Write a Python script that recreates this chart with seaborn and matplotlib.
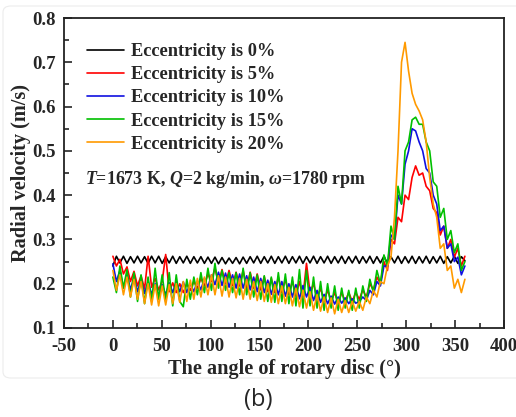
import numpy as np
import pandas as pd
import matplotlib
matplotlib.use("Agg")
import matplotlib.pyplot as plt
from matplotlib.patches import FancyBboxPatch
from matplotlib.ticker import MultipleLocator
import seaborn as sns

labels = ["Eccentricity is 0%", "Eccentricity is 5%", "Eccentricity is 10%",
          "Eccentricity is 15%", "Eccentricity is 20%"]
colors = ["#000000", "#ff0000", "#1010e0", "#00c000", "#ff9a00"]

angle_start, angle_end, n_points = 0, 360, 101

ecc0 = [0.240,0.262,0.247,0.262,0.246,0.261,0.247,0.262,0.247,0.261,
        0.246,0.262,0.247,0.262,0.246,0.261,0.247,0.262,0.246,0.261,
        0.247,0.262,0.246,0.261,0.247,0.261,0.246,0.260,0.246,0.260,
        0.245,0.259,0.245,0.258,0.246,0.259,0.245,0.260,0.246,0.261,
        0.247,0.262,0.246,0.261,0.247,0.262,0.246,0.261,0.247,0.262,
        0.246,0.261,0.247,0.262,0.246,0.261,0.247,0.262,0.246,0.261,
        0.247,0.262,0.246,0.261,0.247,0.262,0.246,0.261,0.247,0.262,
        0.246,0.261,0.247,0.262,0.246,0.261,0.247,0.262,0.246,0.261,
        0.247,0.262,0.246,0.261,0.247,0.262,0.246,0.261,0.247,0.262,
        0.246,0.261,0.247,0.262,0.246,0.261,0.247,0.262,0.246,0.261,
        0.252]
ecc5 = [0.262,0.240,0.255,0.222,0.238,0.205,0.228,0.195,0.218,0.188,
        0.262,0.192,0.212,0.186,0.205,0.266,0.182,0.202,0.180,0.200,
        0.180,0.200,0.185,0.205,0.190,0.212,0.195,0.222,0.205,0.236,
        0.200,0.232,0.200,0.230,0.196,0.226,0.195,0.230,0.190,0.226,
        0.190,0.222,0.186,0.216,0.182,0.212,0.180,0.215,0.180,0.210,
        0.176,0.206,0.172,0.205,0.170,0.246,0.180,0.200,0.166,0.190,
        0.160,0.186,0.160,0.180,0.156,0.180,0.160,0.180,0.160,0.180,
        0.165,0.186,0.170,0.200,0.186,0.215,0.200,0.250,0.230,0.300,
        0.290,0.350,0.340,0.400,0.390,0.440,0.466,0.445,0.450,0.420,
        0.410,0.370,0.360,0.310,0.330,0.280,0.300,0.260,0.280,0.240,
        0.262]
ecc10 = [0.245,0.205,0.230,0.190,0.222,0.186,0.215,0.182,0.210,0.178,
         0.205,0.176,0.200,0.172,0.198,0.175,0.202,0.180,0.205,0.182,
         0.204,0.180,0.200,0.182,0.205,0.186,0.212,0.192,0.220,0.198,
         0.226,0.196,0.224,0.192,0.220,0.190,0.222,0.190,0.218,0.186,
         0.215,0.182,0.212,0.180,0.208,0.176,0.205,0.175,0.205,0.172,
         0.200,0.170,0.198,0.166,0.196,0.170,0.192,0.162,0.185,0.158,
         0.176,0.155,0.172,0.154,0.170,0.156,0.168,0.155,0.166,0.156,
         0.160,0.170,0.162,0.185,0.175,0.205,0.195,0.240,0.240,0.310,
         0.300,0.400,0.380,0.470,0.500,0.550,0.545,0.520,0.500,0.460,
         0.450,0.400,0.380,0.320,0.330,0.280,0.290,0.250,0.260,0.220,
         0.240]
ecc15 = [0.215,0.180,0.240,0.190,0.232,0.170,0.225,0.160,0.220,0.155,
         0.215,0.160,0.235,0.165,0.220,0.160,0.225,0.150,0.220,0.160,
         0.148,0.210,0.165,0.215,0.175,0.225,0.180,0.235,0.185,0.246,
         0.190,0.230,0.185,0.225,0.180,0.225,0.175,0.235,0.175,0.225,
         0.170,0.220,0.165,0.218,0.160,0.215,0.158,0.225,0.160,0.222,
         0.155,0.215,0.150,0.232,0.145,0.230,0.150,0.215,0.145,0.205,
         0.140,0.200,0.145,0.195,0.140,0.190,0.145,0.185,0.140,0.190,
         0.145,0.195,0.160,0.210,0.180,0.230,0.200,0.265,0.240,0.330,
         0.300,0.420,0.380,0.500,0.520,0.570,0.576,0.560,0.560,0.520,
         0.500,0.430,0.420,0.350,0.370,0.300,0.320,0.270,0.290,0.230,
         0.250]
ecc20 = [0.230,0.185,0.220,0.175,0.215,0.170,0.210,0.165,0.205,0.155,
         0.200,0.152,0.198,0.150,0.195,0.152,0.198,0.155,0.200,0.158,
         0.205,0.160,0.208,0.165,0.212,0.170,0.215,0.175,0.220,0.175,
         0.218,0.172,0.215,0.170,0.212,0.168,0.212,0.165,0.210,0.165,
         0.205,0.162,0.205,0.160,0.200,0.158,0.198,0.155,0.195,0.155,
         0.192,0.150,0.190,0.148,0.185,0.145,0.182,0.140,0.175,0.138,
         0.170,0.135,0.168,0.132,0.165,0.135,0.162,0.135,0.160,0.138,
         0.160,0.140,0.170,0.155,0.185,0.170,0.205,0.200,0.240,0.260,
         0.350,0.500,0.700,0.745,0.680,0.630,0.605,0.590,0.570,0.520,
         0.440,0.380,0.350,0.280,0.290,0.230,0.240,0.190,0.210,0.180,
         0.210]

series = [ecc0, ecc5, ecc10, ecc15, ecc20]
angles = np.linspace(angle_start, angle_end, n_points)

frames = []
for lab, vals in zip(labels, series):
    frames.append(pd.DataFrame({"angle": angles, "velocity": vals, "case": lab}))
df = pd.concat(frames, ignore_index=True)

sns.set_style("ticks")
plt.rcParams["font.family"] = ["Liberation Serif", "DejaVu Serif"]
plt.rcParams["font.weight"] = "bold"
plt.rcParams["axes.unicode_minus"] = False
plt.rcParams["mathtext.fontset"] = "custom"
plt.rcParams["mathtext.it"] = "Liberation Serif:italic:bold"
plt.rcParams["mathtext.rm"] = "Liberation Serif:bold"
plt.rcParams["mathtext.bf"] = "Liberation Serif:bold"

fig = plt.figure(figsize=(5.16, 4.17), dpi=100)
ax = fig.add_axes([64/516, 1-328/417, 440/516, 310/417])

border = FancyBboxPatch((3/516, 1-378/417), 530/516, 372/417,
                        boxstyle="round,pad=0,rounding_size=0.015",
                        transform=fig.transFigure, facecolor="none",
                        edgecolor="#ececec", linewidth=0.8, zorder=-10)
fig.patches.append(border)

sns.lineplot(data=df, x="angle", y="velocity", hue="case", hue_order=labels,
             palette=colors, linewidth=1.2, ax=ax, legend=True)

ax.set_xlim(-50, 400)
ax.set_ylim(0.1, 0.8)
ax.xaxis.set_major_locator(MultipleLocator(50))
ax.xaxis.set_minor_locator(MultipleLocator(25))
ax.yaxis.set_major_locator(MultipleLocator(0.1))
ax.yaxis.set_minor_locator(MultipleLocator(0.05))
ax.tick_params(which="both", direction="in", top=False, right=False,
               labelsize=13.5, width=1.2)
ax.tick_params(which="major", length=6)
ax.tick_params(axis="x", which="major", pad=7)
ax.tick_params(axis="y", which="major", pad=6)
ax.tick_params(which="minor", length=3.5)
for t in ax.get_xticklabels() + ax.get_yticklabels():
    t.set_fontweight("bold")
for sp in ax.spines.values():
    sp.set_visible(True)
    sp.set_linewidth(1.3)
    sp.set_color("#222222")

ax.set_xlabel("The angle of rotary disc (°)", fontsize=14.6, fontweight="bold", labelpad=3)
ax.set_ylabel("Radial velocity (m/s)", fontsize=14.6, fontweight="bold", labelpad=1)

handles, labs = ax.get_legend_handles_labels()
ax.legend(handles, labs, loc="upper left", bbox_to_anchor=(0.045, 0.93),
          frameon=False, prop={"weight": "bold", "size": 13.2},
          handlelength=2.0, handletextpad=0.35, labelspacing=0.33,
          borderpad=0.2, borderaxespad=0)

ax.text(0.048, 0.478, r"$\mathit{T}$=1673 K, $\mathit{Q}$=2 kg/min, $\mathit{ω}$=1780 rpm",
        transform=ax.transAxes, fontsize=12.9, fontweight="bold", va="center", ha="left")

fig.text(258/516, 1-400/417, "(b)", fontsize=17, family=["Open Sans", "DejaVu Sans"],
         ha="center", va="center", fontweight="normal")

fig.savefig("out.png", dpi=100)
